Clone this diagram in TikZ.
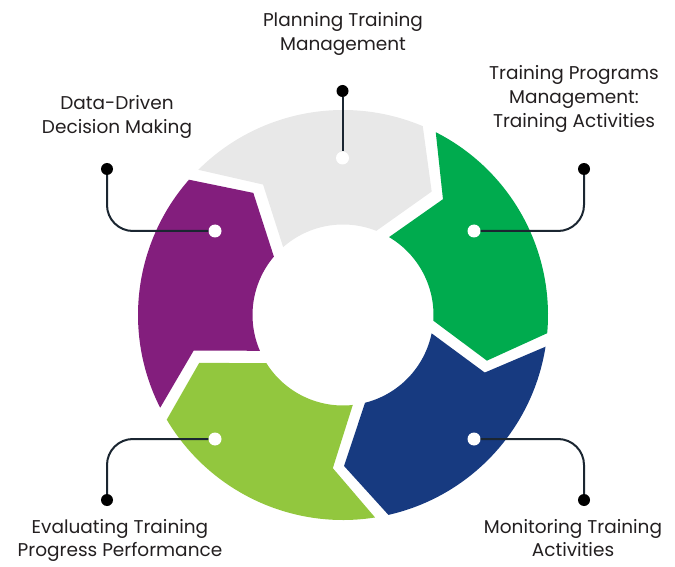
\documentclass[tikz,border=0pt]{standalone}
\usepackage{fontspec}
\setmainfont{Poppins}
\definecolor{segGray}{HTML}{E8E8E8}
\definecolor{segGreen}{HTML}{00AB4E}
\definecolor{segBlue}{HTML}{173A80}
\definecolor{segLime}{HTML}{92C73E}
\definecolor{segPurple}{HTML}{831E7D}
\definecolor{lineCol}{HTML}{1B2631}
\definecolor{txtCol}{HTML}{231F20}
\begin{document}
\begin{tikzpicture}[x=1pt,y=1pt,
  blackdot/.style={circle,fill=black,inner sep=0pt,minimum size=12pt},
  whitedot/.style={circle,fill=white,inner sep=0pt,minimum size=13pt},
  conn/.style={draw=lineCol,line width=2pt,rounded corners=26pt},
  lbl/.style={align=center,font=\fontsize{18.5}{24}\selectfont,text=txtCol,inner sep=0pt},
  lowlbl/.style={lbl,font=\fontsize{18.5}{23}\selectfont,anchor=north}]
\useasboundingbox (0,0) rectangle (675,566);
\begin{scope}[shift={(343,251)}]
\fill[segGray] (67.1:205pt) arc[start angle=67.1,end angle=134.9,radius=205pt] -- (121.5:153pt) -- (131.4:90.5pt) arc[start angle=131.4,end angle=68.4,radius=90.5pt] -- (54.3:152pt) -- cycle;
\fill[segGreen] (-5.1:205pt) arc[start angle=-5.1,end angle=63.1,radius=205pt] -- (49.2:153pt) -- (59.4:90.5pt) arc[start angle=59.4,end angle=-3.6,radius=90.5pt] -- (-17.6:151pt) -- cycle;
\fill[segBlue] (-77.2:205pt) arc[start angle=-77.2,end angle=-8.9,radius=205pt] -- (-22.1:153pt) -- (-11.7:90.5pt) arc[start angle=-11.7,end angle=-75.9,radius=90.5pt] -- (-89.6:151pt) -- cycle;
\fill[segLime] (210.7:205pt) arc[start angle=210.7,end angle=279,radius=205pt] -- (266.2:153.5pt) -- (276.2:90.5pt) arc[start angle=276.2,end angle=212.2,radius=90.5pt] -- (198.4:151.5pt) -- cycle;
\fill[segPurple] (138.7:205pt) arc[start angle=138.7,end angle=206.9,radius=205pt] -- (193.4:153.5pt) -- (203.3:90.5pt) arc[start angle=203.3,end angle=139.8,radius=90.5pt] -- (126.3:151.5pt) -- cycle;
\end{scope}
% dots
\node[whitedot] (w1) at (342.5,408) {};
\node[blackdot] (b1) at (342.5,475) {};
\node[whitedot] (w2) at (215,335) {};
\node[blackdot] (b2) at (107,397) {};
\node[whitedot] (w3) at (474,335) {};
\node[blackdot] (b3) at (584,397) {};
\node[whitedot] (w4) at (215,127) {};
\node[blackdot] (b4) at (107,66) {};
\node[whitedot] (w5) at (474,127) {};
\node[blackdot] (b5) at (584,66) {};
% connectors
\draw[conn] (b1) -- (w1);
\draw[conn] (b2) |- (w2);
\draw[conn] (b3) |- (w3);
\draw[conn] (b4) |- (w4);
\draw[conn] (b5) |- (w5);
% labels
\node[lbl] (t1) at (343,532) {Planning Training\\Management};
\node[lbl] (t2) at (117,449) {Data-Driven\\Decision Making};
\node[lbl] (t3) at (574,467) {Training Programs\\Management:\\Training Activities};
\node[lowlbl] (t4) at (120,47) {Evaluating Training\\Progress Performance};
\node[lowlbl] (t5) at (573,47) {Monitoring Training\\Activities};
\end{tikzpicture}
\end{document}
